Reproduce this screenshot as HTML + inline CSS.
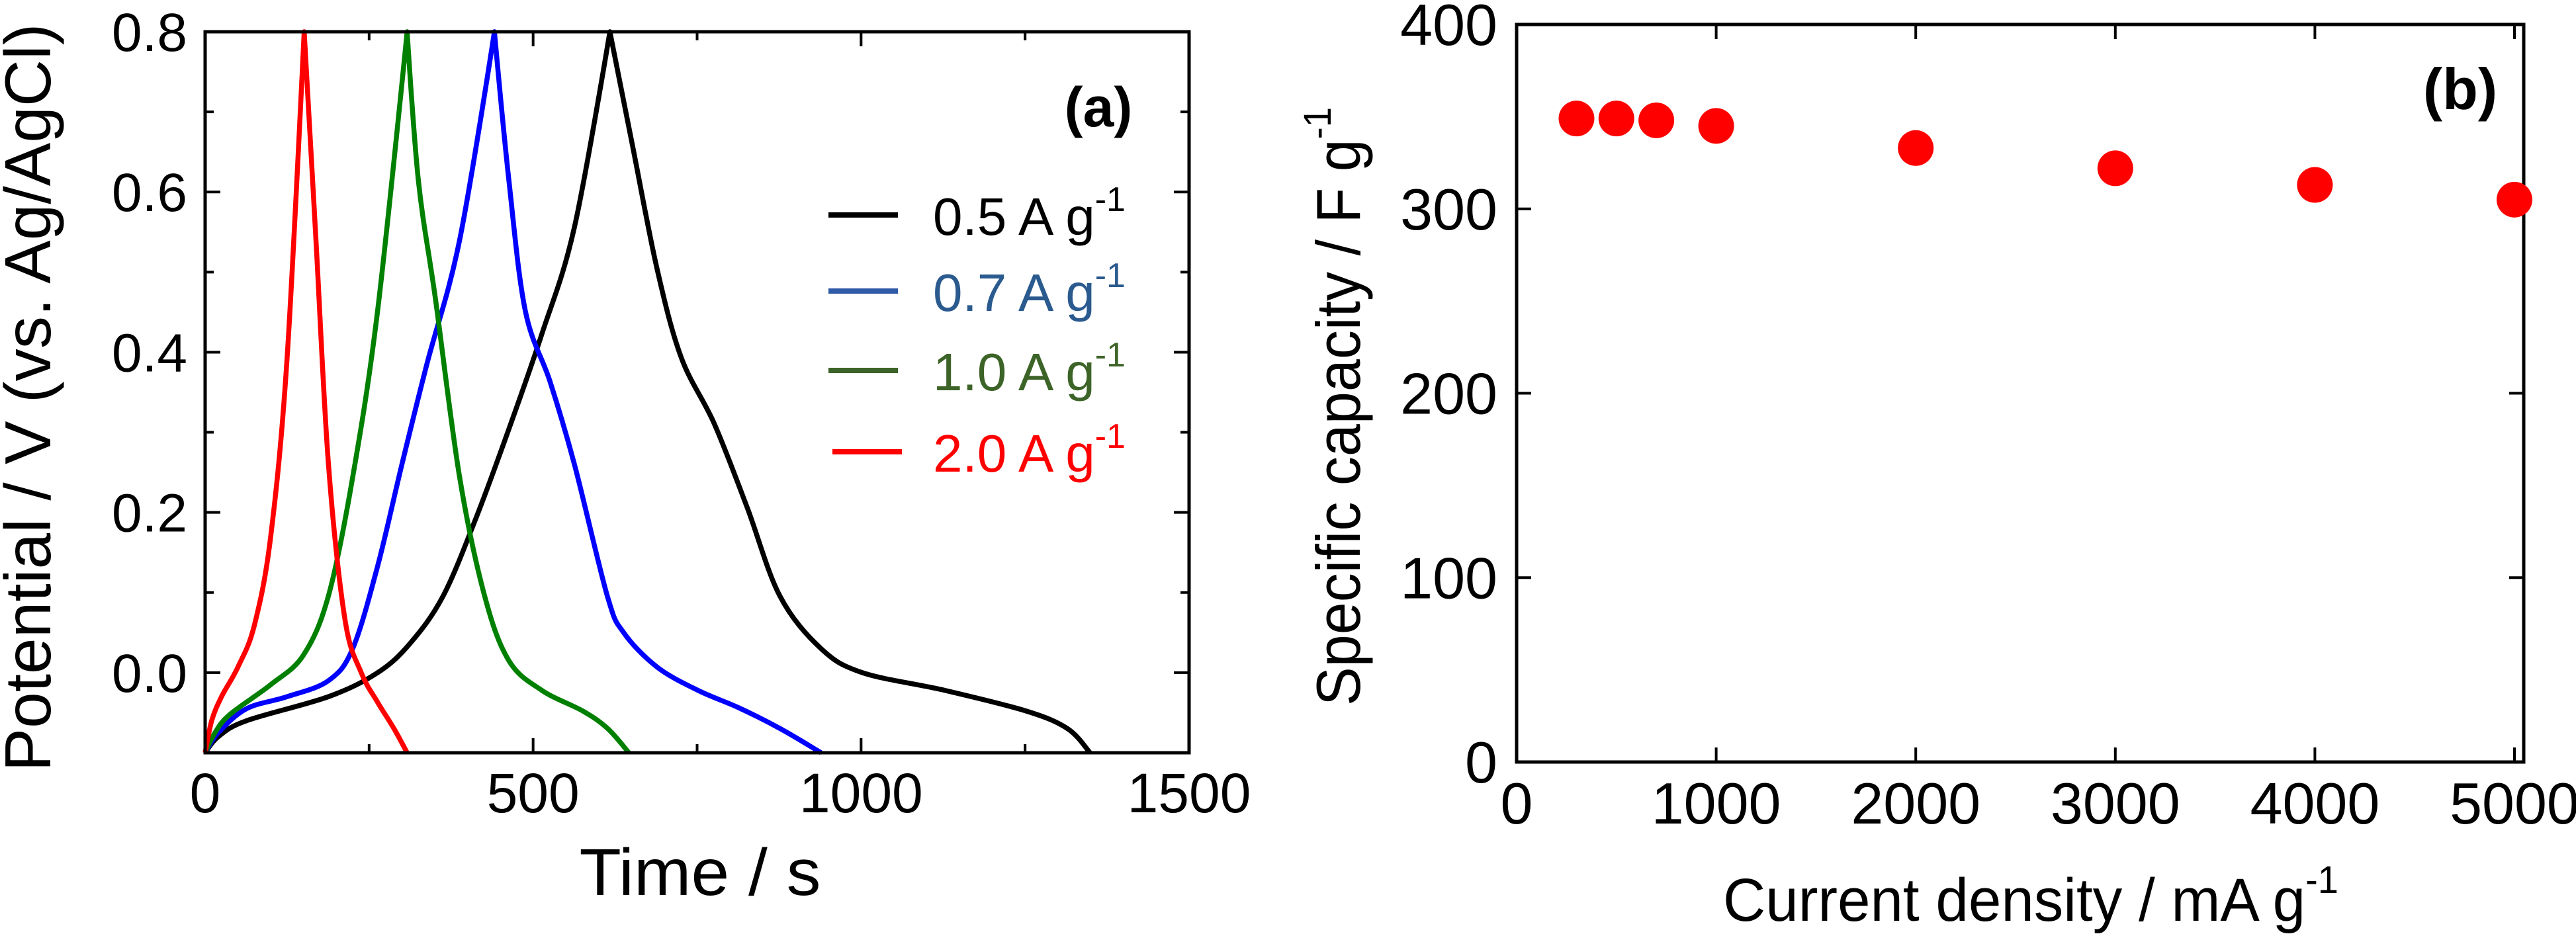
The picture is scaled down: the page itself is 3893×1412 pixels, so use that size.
<!DOCTYPE html>
<html><head><meta charset="utf-8">
<style>
html,body{margin:0;padding:0;background:#fff;}
svg{display:block;font-family:"Liberation Sans",Arial,sans-serif;}
</style></head>
<body>
<svg id="fig" width="3893" height="1412" viewBox="0 0 3893 1412" xmlns="http://www.w3.org/2000/svg">
<g id="pa"></g>
<g id="pb"></g>
</svg>
<script>
// ---------- Panel (a) data ----------
const aXTicks = [0, 500, 1000, 1500];
const aXTickLabels = ["0", "500", "1000", "1500"];
const aYTicks = [0.0, 0.2, 0.4, 0.6, 0.8];
const aYTickLabels = ["0.0", "0.2", "0.4", "0.6", "0.8"];
const seriesNames = ["0.5 A g", "0.7 A g", "1.0 A g", "2.0 A g"];
const t05 = [0,20,63,188,263,313,363,413,463,513,563,617,651,689,726,776,826,876,939,1002,1127,1252,1315,1349];
const v05 = [-0.1,-0.08,-0.06,-0.03,0.0,0.037,0.096,0.193,0.304,0.422,0.556,0.8,0.66,0.504,0.393,0.311,0.207,0.096,0.03,0.0,-0.022,-0.048,-0.07,-0.1];
const t07 = [0,20,63,125,188,225,263,300,338,388,441,463,488,526,563,613,638,689,751,814,877,939];
const v07 = [-0.1,-0.075,-0.045,-0.03,-0.01,0.03,0.133,0.26,0.385,0.54,0.8,0.615,0.452,0.363,0.26,0.096,0.05,0.007,-0.022,-0.044,-0.07,-0.1];
const t10 = [0,15,38,100,150,188,225,263,308,325,351,388,426,463,513,576,614,646];
const v10 = [-0.1,-0.075,-0.052,-0.015,0.022,0.096,0.244,0.452,0.8,0.615,0.467,0.244,0.096,0.015,-0.022,-0.048,-0.07,-0.1];
const t20 = [0,10,25,50,75,100,125,151,169,188,213,238,263,288,308];
const v20 = [-0.1,-0.06,-0.03,0.007,0.059,0.17,0.393,0.8,0.54,0.26,0.067,0.0,-0.037,-0.07,-0.1];
// ---------- Panel (b) data ----------
const bX = [300, 500, 700, 1000, 2000, 3000, 4000, 5000];
const bY = [349, 349, 348, 345, 333, 322, 313, 305];
const bXTicks = [0, 1000, 2000, 3000, 4000, 5000];
const bXTickLabels = ["0", "1000", "2000", "3000", "4000", "5000"];
const bYTicks = [0, 100, 200, 300, 400];
const bYTickLabels = ["0", "100", "200", "300", "400"];

const NS = "http://www.w3.org/2000/svg";
function mk(parent, tag, attrs, text) {
  const e = document.createElementNS(NS, tag);
  for (const k in attrs) e.setAttribute(k, attrs[k]);
  if (text !== undefined) e.textContent = text;
  parent.appendChild(e);
  return e;
}

// ---------- Panel (a) ----------
(function(){
  const g = document.getElementById('pa');
  const L = 310, R = 1797, T = 48, B = 1138;
  const xs = t => L + (t - 0) / 1500 * (R - L);
  const ys = v => B - (v + 0.1) / 0.9 * (B - T);
  const colors = ["#000000", "#0000ff", "#008000", "#ff0000"];
  const textColors = ["#000000", "#2a5a8e", "#3d6428", "#ff0000"];
  const legendLine = ["#000000", "#2f5aa8", "#3d6428", "#ff0000"];
  const data = [[t05, v05], [t07, v07], [t10, v10], [t20, v20]];
  const names = ['curve-0p5', 'curve-0p7', 'curve-1p0', 'curve-2p0'];
  data.forEach((d, i) => {
    const pts = d[0].map((t, j) => [xs(t), ys(d[1][j])]);
    let p = 'M' + pts[0][0].toFixed(1) + ',' + pts[0][1].toFixed(1);
    for (let j = 0; j < pts.length - 1; j++) {
      const p0 = pts[Math.max(0, j - 1)], p1 = pts[j], p2 = pts[j + 1], p3 = pts[Math.min(pts.length - 1, j + 2)];
      const k1 = d[1][j] === 0.8 ? 0 : 1 / 6;
      const k2 = d[1][j + 1] === 0.8 ? 0 : 1 / 6;
      const c1 = [p1[0] + (p2[0] - p0[0]) * k1, p1[1] + (p2[1] - p0[1]) * k1];
      const c2 = [p2[0] - (p3[0] - p1[0]) * k2, p2[1] - (p3[1] - p1[1]) * k2];
      p += ' C' + c1[0].toFixed(1) + ',' + c1[1].toFixed(1) + ' ' + c2[0].toFixed(1) + ',' + c2[1].toFixed(1) + ' ' + p2[0].toFixed(1) + ',' + p2[1].toFixed(1);
    }
    const path = mk(g, 'path', {d: p, fill: 'none', stroke: colors[i], 'stroke-width': 7.5, 'stroke-linejoin': 'round'});
    
    
  });
  const fr = mk(g, 'rect', {x: L, y: T, width: R - L, height: B - T, fill: 'none', stroke: '#000', 'stroke-width': 5});
  
  
  for (let t = 0; t <= 1500; t += 250) {
    const len = (t % 500 === 0) ? 22 : 13;
    const x = xs(t);
    const tk = mk(g, 'path', {d: `M${x},${B} v${-len} M${x},${T} v${len}`, stroke: '#000', 'stroke-width': 4});
    
    
  }
  aXTicks.forEach((t, i) => {
    const tx = mk(g, 'text', {x: xs(t), y: 1228, 'font-size': 84, 'text-anchor': 'middle', fill: '#000'}, aXTickLabels[i]);
    
    
  });
  for (let k = 0; k <= 9; k++) {
    const v = -0.1 + k * 0.1;
    const major = Math.round(v * 10) % 2 === 0;
    const len = major ? 23 : 13;
    const y = ys(v);
    const tk = mk(g, 'path', {d: `M${L},${y} h${len} M${R},${y} h${-len}`, stroke: '#000', 'stroke-width': 4});
    
    
  }
  aYTicks.forEach((v, i) => {
    const tx = mk(g, 'text', {x: 283, y: ys(v) + 29, 'font-size': 82, 'text-anchor': 'end', fill: '#000'}, aYTickLabels[i]);
    
    
  });
  const xt = mk(g, 'text', {x: 1058, y: 1353, 'font-size': 100, 'text-anchor': 'middle', fill: '#000', textLength: 365, lengthAdjust: 'spacingAndGlyphs'}, 'Time / s');
  
  
  const yt = mk(g, 'text', {x: 0, y: 0, 'font-size': 98, 'text-anchor': 'middle', fill: '#000', transform: 'translate(76,601) rotate(-90)', textLength: 1131, lengthAdjust: 'spacingAndGlyphs'}, 'Potential / V (vs. Ag/AgCl)');
  
  
  const pl = mk(g, 'text', {x: 1660, y: 191, 'font-size': 84, 'font-weight': 'bold', 'text-anchor': 'middle', fill: '#000'}, '(a)');
  
  
  const ly = [325, 440, 560, 683];
  seriesNames.forEach((n, i) => {
    const lg = mk(g, 'g', {});
    
    
    mk(lg, 'line', {x1: i === 3 ? 1258 : 1252, x2: i === 3 ? 1363 : 1357, y1: ly[i], y2: ly[i], stroke: legendLine[i], 'stroke-width': 8});
    const tx = mk(lg, 'text', {x: 1410, y: ly[i] + 30, 'font-size': 80, fill: textColors[i]}, n);
    mk(tx, 'tspan', {'font-size': 52, dy: -36}, '-1');
  });
})();

// ---------- Panel (b) ----------
(function(){
  const g = document.getElementById('pb');
  const L = 2292, R = 3814, T = 37, B = 1152;
  const xs = x => L + x / 5000 * (3800 - L);
  const ys = y => B - y / 400 * (B - T);
  const fr = mk(g, 'rect', {x: L, y: T, width: R - L, height: B - T, fill: 'none', stroke: '#000', 'stroke-width': 5});
  
  
  bXTicks.forEach((v, i) => {
    const x = xs(v);
    const tk = mk(g, 'path', {d: `M${x},${B} v-22 M${x},${T} v22`, stroke: '#000', 'stroke-width': 4});
    
    
    const tx = mk(g, 'text', {x: x, y: 1245, 'font-size': 88, 'text-anchor': 'middle', fill: '#000'}, bXTickLabels[i]);
    
    
  });
  bYTicks.forEach((v, i) => {
    const y = ys(v);
    const tk = mk(g, 'path', {d: `M${L},${y} h22 M${R},${y} h-22`, stroke: '#000', 'stroke-width': 4});
    
    
    const tx = mk(g, 'text', {x: 2263, y: y + 31, 'font-size': 88, 'text-anchor': 'end', fill: '#000'}, bYTickLabels[i]);
    
    
  });
  bX.forEach((x, i) => {
    const c = mk(g, 'ellipse', {cx: xs(x), cy: ys(bY[i]), rx: 27, ry: 27, fill: '#ff0000'});
    
    
  });
  const xt = mk(g, 'text', {x: 2604, y: 1392, 'font-size': 92, fill: '#000', textLength: 930, lengthAdjust: 'spacingAndGlyphs'}, 'Current density / mA g');
  mk(xt, 'tspan', {'font-size': 58, dy: -42}, '-1');
  
  
  const yt = mk(g, 'text', {x: 0, y: 0, 'font-size': 94, fill: '#000', transform: 'translate(2055,1067) rotate(-90)', textLength: 905, lengthAdjust: 'spacingAndGlyphs'}, 'Specific capacity / F g');
  mk(yt, 'tspan', {'font-size': 58, dy: -44}, '-1');
  
  
  const pl = mk(g, 'text', {x: 3718, y: 165, 'font-size': 88, 'font-weight': 'bold', 'text-anchor': 'middle', fill: '#000'}, '(b)');
  
  
})();
</script>
</body></html>
